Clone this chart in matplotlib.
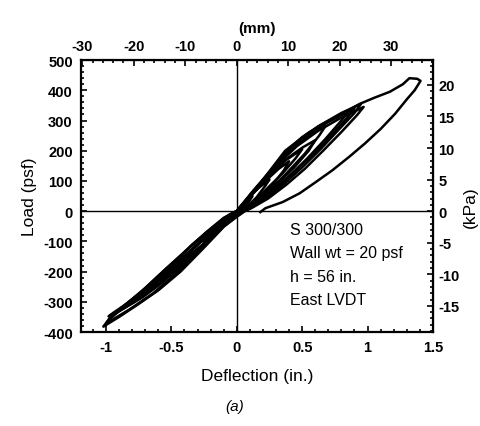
import matplotlib
matplotlib.use("Agg")
import matplotlib.pyplot as plt
from matplotlib.ticker import MultipleLocator, FixedLocator

plt.rcParams['font.family'] = ['Liberation Sans', 'DejaVu Sans']
plt.rcParams['axes.unicode_minus'] = False

# --- data: hysteresis cycles, deflection (in.) and load (psf) ---
cyc1_d = [0, 0.06, 0.12, 0.09, 0.04, 0.01, -0.06, -0.12, -0.09, -0.04, 0]
cyc1_l = [0, 28, 50, 30, 8, 0, -25, -45, -28, -8, 0]

cyc2_d = [0, 0.08, 0.17, 0.25, 0.22, 0.15, 0.07, 0.03, -0.08, -0.18, -0.26, -0.22, -0.14, -0.06, 0]
cyc2_l = [0, 40, 78, 105, 85, 45, 12, 0, -35, -72, -100, -80, -45, -12, 0]

cyc3_d = [0, 0.1, 0.22, 0.32, 0.40, 0.36, 0.27, 0.16, 0.06, 0.03,
          -0.1, -0.22, -0.33, -0.42, -0.37, -0.27, -0.15, -0.05, 0]
cyc3_l = [0, 50, 100, 140, 165, 135, 85, 38, 5, 0,
          -45, -95, -135, -165, -140, -95, -48, -12, 0]

cyc4_d = [0, 0.12, 0.25, 0.38, 0.5, 0.45, 0.35, 0.22, 0.1, 0.03,
          -0.1, -0.24, -0.4, -0.55, -0.5, -0.38, -0.24, -0.1, 0]
cyc4_l = [0, 58, 118, 170, 205, 175, 125, 70, 22, 0,
          -42, -105, -165, -215, -195, -145, -85, -28, 0]

cyc5_d = [0, 0.12, 0.25, 0.37, 0.5, 0.6, 0.55, 0.44, 0.3, 0.16, 0.06, 0.03,
          -0.1, -0.22, -0.36, -0.5, -0.62, -0.58, -0.48, -0.34, -0.2, -0.07, 0]
cyc5_l = [0, 60, 120, 170, 210, 235, 200, 145, 85, 35, 5, 0,
          -45, -100, -160, -210, -235, -215, -170, -110, -60, -18, 0]

cyc6_d = [0, 0.12, 0.25, 0.37, 0.5, 0.6, 0.68, 0.63, 0.52, 0.38, 0.24, 0.1, 0.04,
          -0.1, -0.25, -0.4, -0.55, -0.69, -0.8, -0.76, -0.64, -0.48, -0.32, -0.17, -0.05, 0]
cyc6_l = [0, 62, 125, 185, 235, 265, 283, 250, 190, 125, 65, 18, 0,
          -45, -110, -170, -225, -270, -300, -285, -245, -185, -120, -58, -12, 0]

cyc7_d = [0, 0.12, 0.25, 0.37, 0.5, 0.62, 0.75, 0.86, 0.8, 0.68, 0.54, 0.4, 0.26, 0.12, 0.05,
          -0.1, -0.25, -0.42, -0.58, -0.72, -0.86, -0.98, -0.94, -0.82, -0.66, -0.5, -0.34, -0.18, -0.06, 0]
cyc7_l = [0, 62, 128, 190, 240, 280, 310, 332, 300, 240, 175, 115, 60, 18, 0,
          -45, -110, -180, -240, -285, -320, -348, -335, -300, -245, -185, -125, -62, -15, 0]

cyc8_d = [0, 0.12, 0.26, 0.4, 0.55, 0.7, 0.82, 0.9, 0.85, 0.74, 0.6, 0.45, 0.3, 0.16, 0.06,
          -0.1, -0.26, -0.44, -0.62, -0.78, -0.95, -0.92, -0.8, -0.64, -0.48, -0.32, -0.16, -0.05, 0]
cyc8_l = [0, 63, 132, 200, 255, 295, 322, 340, 312, 260, 195, 135, 78, 30, 0,
          -46, -112, -185, -250, -300, -345, -332, -292, -238, -178, -118, -58, -14, 0]

cyc9_d = [0, 0.12, 0.25, 0.37, 0.5, 0.64, 0.8, 0.95, 0.9, 0.78, 0.64, 0.5, 0.36, 0.22, 0.1, 0.05,
          -0.1, -0.26, -0.43, -0.6, -0.76, -0.9, -1.02, -0.99, -0.88, -0.72, -0.56, -0.4, -0.24, -0.1, 0]
cyc9_l = [0, 65, 130, 195, 245, 285, 325, 355, 325, 270, 205, 145, 90, 40, 8, 0,
          -52, -125, -200, -262, -310, -350, -382, -365, -322, -262, -198, -135, -72, -22, 0]

cyc10_d = [0, 0.14, 0.3, 0.46, 0.62, 0.78, 0.9, 0.97, 0.92, 0.8, 0.66, 0.52, 0.38, 0.24, 0.12, 0.06,
           -0.1, -0.28, -0.46, -0.64, -0.82, -1.0, -0.97, -0.86, -0.7, -0.54, -0.38, -0.22, -0.08, 0]
cyc10_l = [0, 70, 150, 215, 265, 305, 330, 345, 318, 262, 200, 140, 88, 42, 12, 0,
           -50, -128, -205, -272, -325, -372, -352, -312, -255, -190, -128, -66, -18, 0]

cyc11_d = [0, 0.1, 0.22, 0.37, 0.55, 0.71, 0.94, 1.05, 1.17, 1.27, 1.32, 1.38, 1.405,
           1.36, 1.30, 1.21, 1.10, 0.98, 0.86, 0.73, 0.60, 0.48, 0.35, 0.22, 0.18]
cyc11_l = [0, 45, 115, 200, 260, 300, 355, 375, 395, 420, 440, 438, 431,
           400, 370, 322, 272, 224, 180, 135, 95, 59, 30, 10, -3]

cycles_d = [cyc1_d, cyc2_d, cyc3_d, cyc4_d, cyc5_d, cyc6_d, cyc7_d, cyc8_d, cyc9_d, cyc10_d, cyc11_d]
cycles_l = [cyc1_l, cyc2_l, cyc3_l, cyc4_l, cyc5_l, cyc6_l, cyc7_l, cyc8_l, cyc9_l, cyc10_l, cyc11_l]

x_ticks = [-1, -0.5, 0, 0.5, 1, 1.5]
x_labels = ['-1', '-0.5', '0', '0.5', '1', '1.5']
mm_ticks = [-30, -20, -10, 0, 10, 20, 30]
kpa_ticks = [-15, -10, -5, 0, 5, 10, 15, 20]

notes = "S 300/300\nWall wt = 20 psf\nh = 56 in.\nEast LVDT"

IN_TO_MM = 25.4
PSF_TO_KPA = 0.04788

fig = plt.figure(figsize=(4.8, 4.27), dpi=100)
ax = fig.add_axes([0.169, 0.220, 0.733, 0.637])

for d, l in zip(cycles_d, cycles_l):
    ax.plot(d, l, color='black', lw=1.8)

ax.axhline(0, color='black', lw=1.0)
ax.axvline(0, color='black', lw=1.0)

ax.set_xlim(-1.19, 1.5)
ax.set_ylim(-400, 500)
ax.set_xticks(x_ticks)
ax.set_xticklabels(x_labels)
ax.xaxis.set_minor_locator(MultipleLocator(0.1))
ax.yaxis.set_major_locator(MultipleLocator(100))
ax.yaxis.set_minor_locator(MultipleLocator(20))
ax.tick_params(which='both', direction='in', width=1.2)
ax.tick_params(which='major', length=4, labelsize=10.5, pad=6)
ax.tick_params(which='minor', length=2)
for lab in ax.get_xticklabels() + ax.get_yticklabels():
    lab.set_fontweight('bold')
for sp in ax.spines.values():
    sp.set_linewidth(1.6)

ax.set_xlabel('Deflection (in.)', fontsize=12.5, labelpad=10)
ax.set_ylabel('Load (psf)', fontsize=12.5, labelpad=4)

# secondary axes in SI units
top = ax.secondary_xaxis('top', functions=(lambda d: d * IN_TO_MM, lambda m: m / IN_TO_MM))
top.xaxis.set_major_locator(FixedLocator(mm_ticks))
top.xaxis.set_minor_locator(MultipleLocator(2))
top.tick_params(which='both', direction='in', width=1.2)
top.tick_params(which='major', length=4, labelsize=10.5, pad=5)
top.tick_params(which='minor', length=2)
for lab in top.get_xticklabels():
    lab.set_fontweight('bold')
top.set_xlabel('(mm)', fontsize=11, fontweight='bold', labelpad=5)

right = ax.secondary_yaxis('right', functions=(lambda p: p * PSF_TO_KPA, lambda k: k / PSF_TO_KPA))
right.yaxis.set_major_locator(FixedLocator(kpa_ticks))
right.yaxis.set_minor_locator(MultipleLocator(1))
right.tick_params(which='both', direction='in', width=1.2)
right.tick_params(which='major', length=4, labelsize=10.5, pad=4)
right.tick_params(which='minor', length=2)
for lab in right.get_yticklabels():
    lab.set_fontweight('bold')
fig.text(470 / 480, 1 - 207 / 427, '(kPa)', fontsize=12.5, rotation=90,
         ha='center', va='center')

ax.text(0.41, -35, notes, fontsize=11.5, va='top', ha='left', linespacing=1.7)

fig.text(0.488, 0.047, '(a)', fontsize=11, style='italic', ha='center', va='center')

fig.savefig('out.png', dpi=100)
